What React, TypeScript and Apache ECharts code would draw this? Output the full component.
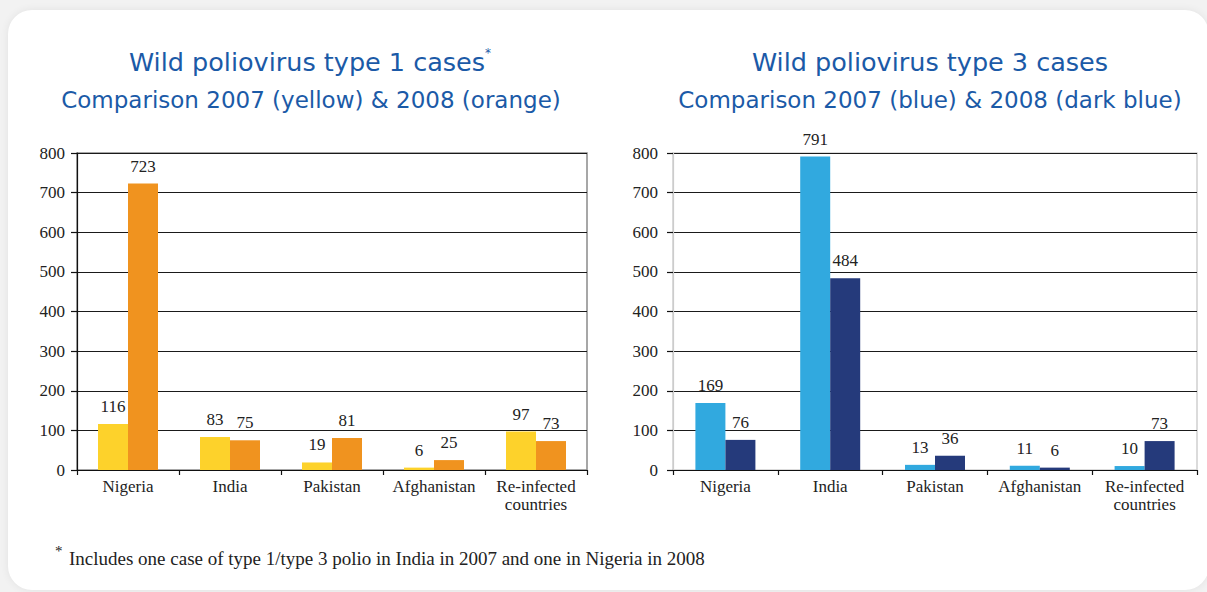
import React, { useEffect, useRef } from "react";
import * as echarts from "echarts";

const categories = ["Nigeria", "India", "Pakistan", "Afghanistan", "Re-infected\ncountries"];
const type1_2007 = [116, 83, 19, 6, 97];
const type1_2008 = [723, 75, 81, 25, 73];
const type3_2007 = [169, 791, 13, 11, 10];
const type3_2008 = [76, 484, 36, 6, 73];
const yTicks = { min: 0, max: 800, interval: 100 };

const SERIF = "'Liberation Serif', 'DejaVu Serif', serif";
const SANS = "'DejaVu Sans', 'Open Sans', sans-serif";
const TITLE_COLOR = "#1b5aa7";

export default function App() {
  const ref = useRef<HTMLDivElement>(null);
  useEffect(() => {
    if (!ref.current) return;
    const chart = echarts.init(ref.current, undefined, { renderer: "svg" });

    const makeX = (gridIndex: number) => ({
      type: "category",
      gridIndex,
      data: categories,
      axisLine: { show: true, lineStyle: { color: "#111", width: 1.2 } },
      axisTick: { show: true, length: 5, interval: 0, alignWithLabel: false, lineStyle: { color: "#111", width: 1.2 } },
      axisLabel: { color: "#222", fontFamily: SERIF, fontSize: 17, margin: 7, lineHeight: 18, interval: 0 },
    });
    const makeY = (gridIndex: number, lineColor: string, margin: number) => ({
      type: "value",
      gridIndex,
      min: yTicks.min,
      max: yTicks.max,
      interval: yTicks.interval,
      axisLine: { show: true, lineStyle: { color: lineColor, width: 1.2 } },
      axisTick: { show: true, length: 6, lineStyle: { color: "#111", width: 1.2 } },
      axisLabel: { color: "#222", fontFamily: SERIF, fontSize: 17, margin },
      splitLine: { show: true, lineStyle: { color: "#1a1a1a", width: 1.2 } },
    });
    const label = {
      show: true,
      position: "top",
      distance: 9,
      color: "#222",
      fontFamily: SERIF,
      fontSize: 17,
    };
    const bar = (name: string, data: number[], color: string, idx: number) => ({
      name,
      type: "bar",
      xAxisIndex: idx,
      yAxisIndex: idx,
      data,
      barWidth: 30,
      barGap: "0%",
      itemStyle: { color },
      label,
    });

    const titleText = (x: number, y: number, text: string, size: number, rich?: any) => ({
      type: "text",
      x,
      y,
      style: {
        text,
        align: "center",
        verticalAlign: "middle",
        fill: TITLE_COLOR,
        fontFamily: SANS,
        fontSize: size,
        rich,
      },
    });

    chart.setOption({
      animation: false,
      backgroundColor: "transparent",
      grid: [
        { left: 77, top: 153, width: 510, height: 317, show: true, borderColor: "#8a8a8a", borderWidth: 1.5, backgroundColor: "transparent" },
        { left: 673, top: 153, width: 524, height: 317, show: true, borderColor: "#cfcfcf", borderWidth: 1.5, backgroundColor: "transparent" },
      ],
      xAxis: [makeX(0), makeX(1)],
      yAxis: [makeY(0, "#111", 12), makeY(1, "#cccccc", 15)],
      series: [
        bar("2007", type1_2007, "#fdd22b", 0),
        bar("2008", type1_2008, "#f0931f", 0),
        bar("2007", type3_2007, "#31a9df", 1),
        bar("2008", type3_2008, "#253a7b", 1),
      ],
      graphic: [
        titleText(310, 62, "{a|Wild poliovirus type 1 cases}{s|*}", 25.5, {
          a: { fontSize: 25.5, fontFamily: SANS, fill: TITLE_COLOR, lineHeight: 30 },
          s: { fontSize: 12, fontFamily: SANS, fill: TITLE_COLOR, lineHeight: 30, verticalAlign: "top" },
        }),
        titleText(311, 100, "Comparison 2007 (yellow) & 2008 (orange)", 23),
        titleText(930, 62, "Wild poliovirus type 3 cases", 25.5),
        titleText(930, 100, "Comparison 2007 (blue) & 2008 (dark blue)", 23),
        {
          type: "text",
          x: 55,
          y: 543,
          style: { text: "*", fill: "#222", fontFamily: SERIF, fontSize: 15 },
        },
        {
          type: "text",
          x: 69,
          y: 558,
          style: {
            text: "Includes one case of type 1/type 3 polio in India in 2007 and one in Nigeria in 2008",
            fill: "#222",
            fontFamily: SERIF,
            fontSize: 19,
            verticalAlign: "middle",
          },
        },
      ],
    });
    return () => chart.dispose();
  }, []);

  return (
    <div style={{ position: "fixed", left: 0, top: 0, width: 1207, height: 592, background: "#f2f2f2", overflow: "hidden" }}>
      <div
        style={{
          position: "absolute",
          left: 8,
          top: 10,
          width: 1201,
          height: 580,
          borderRadius: 24,
          background: "#ffffff",
          boxShadow: "0 0 8px rgba(0,0,0,0.07)",
        }}
      />
      <div ref={ref} style={{ position: "absolute", left: 0, top: 0, width: 1207, height: 592 }} />
    </div>
  );
}
